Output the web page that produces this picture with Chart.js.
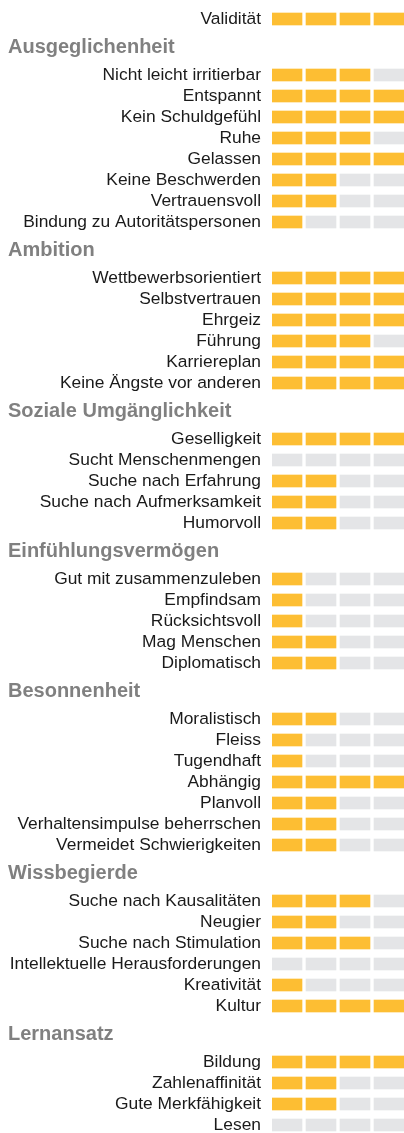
<!DOCTYPE html>
<html lang="de">
<head>
<meta charset="utf-8">
<title>Profil</title>
<script src="https://cdn.jsdelivr.net/npm/chart.js@4.4.1/dist/chart.umd.min.js"></script>
<style>
  html, body { margin: 0; padding: 0; background: #fff; overflow: hidden; }
  #wrap { position: relative; width: 404px; height: 1133px; }
</style>
</head>
<body>
<div id="wrap"><canvas id="chart"></canvas></div>
<script>
// ── DATA ─────────────────────────────────────────────────
// Score = number of filled segments out of 4
const topLabels = ["Validität"];
const topScores = [4];

const groupNames = [
  "Ausgeglichenheit",
  "Ambition",
  "Soziale Umgänglichkeit",
  "Einfühlungsvermögen",
  "Besonnenheit",
  "Wissbegierde",
  "Lernansatz",
];

const groupLabels = [
  ["Nicht leicht irritierbar", "Entspannt", "Kein Schuldgefühl", "Ruhe", "Gelassen",
   "Keine Beschwerden", "Vertrauensvoll", "Bindung zu Autoritätspersonen"],
  ["Wettbewerbsorientiert", "Selbstvertrauen", "Ehrgeiz", "Führung", "Karriereplan",
   "Keine Ängste vor anderen"],
  ["Geselligkeit", "Sucht Menschenmengen", "Suche nach Erfahrung",
   "Suche nach Aufmerksamkeit", "Humorvoll"],
  ["Gut mit zusammenzuleben", "Empfindsam", "Rücksichtsvoll", "Mag Menschen", "Diplomatisch"],
  ["Moralistisch", "Fleiss", "Tugendhaft", "Abhängig", "Planvoll",
   "Verhaltensimpulse beherrschen", "Vermeidet Schwierigkeiten"],
  ["Suche nach Kausalitäten", "Neugier", "Suche nach Stimulation",
   "Intellektuelle Herausforderungen", "Kreativität", "Kultur"],
  ["Bildung", "Zahlenaffinität", "Gute Merkfähigkeit", "Lesen"],
];

const groupScores = [
  [3, 4, 4, 3, 4, 2, 2, 1],
  [4, 4, 4, 3, 4, 4],
  [4, 0, 2, 2, 2],
  [1, 1, 1, 2, 2],
  [2, 1, 1, 4, 2, 2, 2],
  [3, 2, 3, 0, 1, 4],
  [4, 2, 2, 0],
];

const SEGMENTS = 4;

// ── LAYOUT (in row units) ───────────────────────────────
const ROW_PX = 21;          // pixel pitch of one row
const GROUP_STEP = 56 / 21; // distance across a group header
const SEG = 30 / 34;        // segment width vs. segment pitch
const FILL = "#FDBE33";
const EMPTY = "#E4E5E7";

const rows = [];     // { label, score, pos }
const headers = [];  // { name, pos }
let pos = 0;
topLabels.forEach((l, i) => { rows.push({ label: l, score: topScores[i], pos }); pos += 1; });
pos -= 1;
groupNames.forEach((name, g) => {
  headers.push({ name, pos: pos + GROUP_STEP / 2 });
  pos += GROUP_STEP;
  groupLabels[g].forEach((l, i) => {
    rows.push({ label: l, score: groupScores[g][i], pos });
    pos += 1;
  });
  pos -= 1;
});

const points = [];
const colors = [];
rows.forEach(r => {
  for (let s = 0; s < SEGMENTS; s++) {
    points.push({ x: [s, s + SEG], y: r.pos });
    colors.push(s < r.score ? FILL : EMPTY);
  }
});

const yMin = -19 / ROW_PX;
const yMax = yMin + 1133 / ROW_PX;

// ── HEADERS (drawn next to the axis) ─────────────────────
const headerPlugin = {
  id: "groupHeaders",
  afterDraw(chart) {
    const ctx = chart.ctx;
    const y = chart.scales.y;
    ctx.save();
    ctx.font = "bold 20px 'Liberation Sans', Arial, sans-serif";
    ctx.fillStyle = "#808080";
    ctx.textAlign = "left";
    ctx.textBaseline = "middle";
    headers.forEach(h => ctx.fillText(h.name, 8, y.getPixelForValue(h.pos)));
    ctx.restore();
  },
};

// ── CHART ────────────────────────────────────────────────
const ctx = document.getElementById("chart").getContext("2d");
new Chart(ctx, {
  type: "bar",
  data: {
    datasets: [{
      data: points,
      backgroundColor: colors,
      borderWidth: 0,
      barThickness: 12,
    }],
  },
  options: {
    indexAxis: "y",
    responsive: true,
    maintainAspectRatio: false,
    animation: false,
    layout: { padding: 0 },
    plugins: {
      legend: { display: false },
      tooltip: { enabled: false },
    },
    scales: {
      x: {
        type: "linear",
        display: false,
        min: 0,
        max: SEGMENTS - 1 + SEG,
      },
      y: {
        type: "linear",
        reverse: true,
        offset: false, // bar charts pad the index axis by default
        min: yMin,
        max: yMax,
        grid: { display: false, drawTicks: false },
        border: { display: false },
        afterBuildTicks: scale => {
          scale.ticks = rows.map(r => ({ value: r.pos }));
        },
        afterFit: scale => {
          scale.width = 272;
          scale.paddingTop = 0;
          scale.paddingBottom = 0;
        },
        ticks: {
          autoSkip: false,
          padding: 11,
          color: "#1a1a1a",
          font: { family: "'Liberation Sans', Arial, sans-serif", size: 17.4 },
          callback: (v, i) => rows[i] ? rows[i].label : "",
        },
      },
    },
  },
  plugins: [headerPlugin],
});
</script>
</body>
</html>
